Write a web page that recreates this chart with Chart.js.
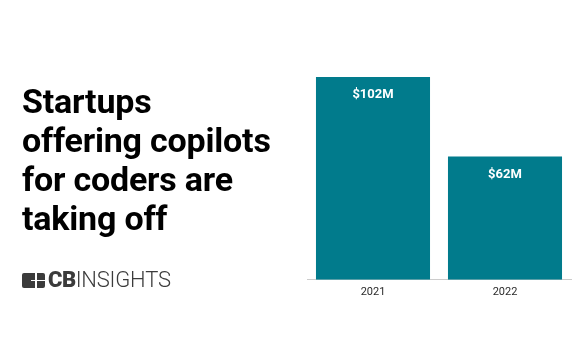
<!DOCTYPE html>
<html>
<head>
<meta charset="utf-8">
<script src="https://cdn.jsdelivr.net/npm/chart.js@4/dist/chart.umd.min.js"></script>
<style>
  html, body { margin: 0; padding: 0; background: #ffffff; }
  #wrap { position: relative; width: 572px; height: 364px; overflow: hidden; background: #fff; }
  #c { position: absolute; left: 0; top: 0; }
  #title {
    position: absolute; left: 22px; top: 82px;
    font-family: Roboto, "Noto Sans", sans-serif; font-weight: 700;
    font-size: 34px; line-height: 39px; color: #000; letter-spacing: -0.2px;
  }
  #logo { position: absolute; left: 22px; top: 270px; height: 20px; display: flex; align-items: center; }
  #icon { position: relative; width: 23px; height: 15px; background: #3b3b3b; border-radius: 2px; margin-right: 3px; }
  #icon .v { position: absolute; left: 13px; top: 0; width: 2px; height: 15px; background: #fff; }
  #icon .h { position: absolute; left: 9px; top: 7px; width: 14px; height: 1.5px; background: #fff; }
  #logotext { font-family: Roboto, "Noto Sans", sans-serif; font-size: 22px; color: #3b3b3b; letter-spacing: -0.2px; line-height: 20px; }
  #logotext b { font-weight: 900; letter-spacing: -0.5px; }
  #logotext span { font-weight: 300; }
</style>
</head>
<body>
<div id="wrap">
  <canvas id="c" width="572" height="364"></canvas>
  <div id="title">Startups<br>offering copilots<br>for coders are<br>taking off</div>
  <div id="logo"><div id="icon"><div class="v"></div><div class="h"></div></div><div id="logotext"><b>CB</b><span>INSIGHTS</span></div></div>
</div>
<script>
const categories = ['2021', '2022'];
const values = [102, 62];
const valueLabels = ['$102M', '$62M'];

const barLabelPlugin = {
  id: 'barLabels',
  afterDatasetsDraw(chart) {
    const ctx = chart.ctx;
    const meta = chart.getDatasetMeta(0);
    ctx.save();
    ctx.font = 'bold 13px Roboto, sans-serif';
    ctx.fillStyle = '#ffffff';
    ctx.textAlign = 'center';
    ctx.textBaseline = 'middle';
    meta.data.forEach((bar, i) => {
      ctx.fillText(valueLabels[i], bar.x, bar.y + 18);
    });
    ctx.restore();
  }
};

new Chart(document.getElementById('c'), {
  type: 'bar',
  data: {
    labels: categories,
    datasets: [{
      data: values,
      backgroundColor: '#017B8C',
      borderWidth: 0,
      barPercentage: 0.864,
      categoryPercentage: 1.0
    }]
  },
  options: {
    responsive: false,
    animation: false,
    devicePixelRatio: 1,
    layout: { padding: { left: 307, right: 1, top: 77, bottom: 59 } },
    plugins: { legend: { display: false }, tooltip: { enabled: false } },
    scales: {
      x: {
        grid: { display: false, drawTicks: false },
        border: { display: true, color: '#cccccc', width: 1 },
        ticks: { color: '#2a2a2a', font: { family: 'Roboto', size: 11 }, padding: 6 }
      },
      y: {
        display: false,
        min: 0,
        max: Math.max(...values),
        grace: 0
      }
    }
  },
  plugins: [barLabelPlugin]
});
</script>
</body>
</html>
